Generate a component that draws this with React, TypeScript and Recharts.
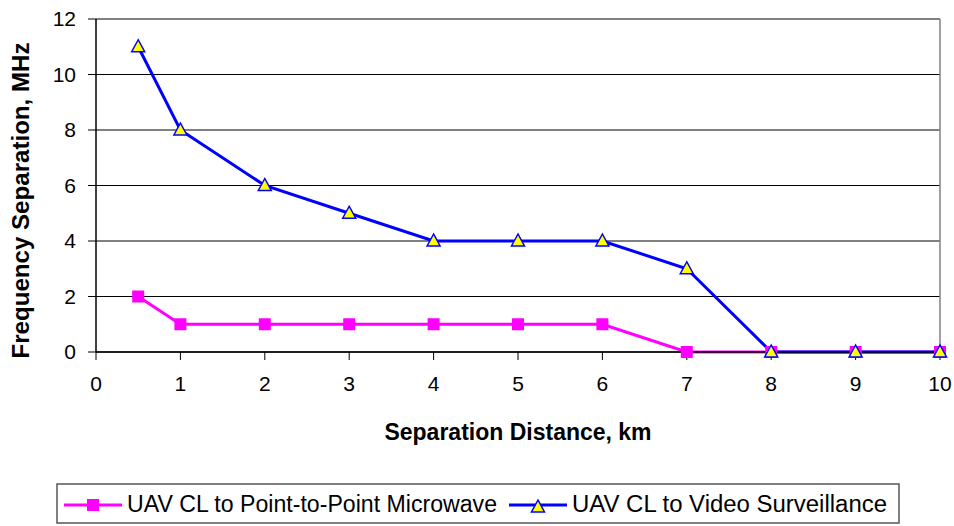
import { LineChart, Line, XAxis, YAxis, CartesianGrid, ReferenceLine, Label } from 'recharts';

const distances = [0.5, 1, 2, 3, 4, 5, 6, 7, 8, 9, 10];
const microwave = [2, 1, 1, 1, 1, 1, 1, 0, 0, 0, 0];
const video = [11, 8, 6, 5, 4, 4, 4, 3, 0, 0, 0];
const xTicks = [0, 1, 2, 3, 4, 5, 6, 7, 8, 9, 10];
const yTicks = [0, 2, 4, 6, 8, 10, 12];

const SERIES = [
  { key: 'microwave', name: 'UAV CL to Point-to-Point Microwave', color: '#FF00FF' },
  { key: 'video', name: 'UAV CL to Video Surveillance', color: '#0000FF' },
];

const data = distances.map((d, i) => ({ dist: d, microwave: microwave[i], video: video[i] }));

const FONT = '"Liberation Sans", Arial, sans-serif';

const SquareDot = (props: any) => {
  const { cx, cy } = props;
  if (cx == null || cy == null) return null;
  return <rect x={cx - 6} y={cy - 6} width={12} height={12} fill="#FF00FF" />;
};

const TriangleDot = (props: any) => {
  const { cx, cy } = props;
  if (cx == null || cy == null) return null;
  return (
    <polygon
      points={`${cx},${cy - 7} ${cx - 6.5},${cy + 5} ${cx + 6.5},${cy + 5}`}
      fill="#FFFF00"
      stroke="#0000FF"
      strokeWidth={1.5}
    />
  );
};

// legend drawn by hand, boxed like the original
const LegendBox = () => (
  <svg
    width={954}
    height={50}
    style={{ position: 'absolute', left: 0, top: 476, fontFamily: FONT }}
  >
    <rect x={57} y={8} width={842} height={39} fill="#fff" stroke="#555" strokeWidth={1.5} />
    <line x1={64} y1={29} x2={122} y2={29} stroke={SERIES[0].color} strokeWidth={3} />
    <rect x={87} y={23} width={12} height={12} fill={SERIES[0].color} />
    <text x={127} y={36} fontSize={23} fill="#000" textLength={370} lengthAdjust="spacingAndGlyphs">
      {SERIES[0].name}
    </text>
    <line x1={509} y1={29} x2={567} y2={29} stroke={SERIES[1].color} strokeWidth={3} />
    <polygon points="538,24 531.5,36 544.5,36" fill="#FFFF00" stroke="#0000FF" strokeWidth={1.5} />
    <text x={572} y={36} fontSize={23} fill="#000" textLength={315} lengthAdjust="spacingAndGlyphs">
      {SERIES[1].name}
    </text>
  </svg>
);

const YTitle = (props: any) => {
  const { viewBox } = props;
  const cy = viewBox.y + viewBox.height / 2 + 15;
  return (
    <text
      x={29}
      y={cy}
      transform={`rotate(-90, 29, ${cy})`}
      textAnchor="middle"
      fontSize={23}
      fontWeight="bold"
      fill="#000"
      textLength={316}
      lengthAdjust="spacingAndGlyphs"
    >
      Frequency Separation, MHz
    </text>
  );
};

const XTitle = (props: any) => {
  const { viewBox } = props;
  const cx = viewBox.x + viewBox.width / 2;
  return (
    <text x={cx} y={440} textAnchor="middle" fontSize={23} fontWeight="bold" fill="#000">
      Separation Distance, km
    </text>
  );
};

export default function App() {
  return (
    <div
      style={{
        position: 'absolute',
        left: 0,
        top: 0,
        width: 954,
        height: 526,
        overflow: 'hidden',
        background: '#fff',
      }}
    >
      <LineChart
        width={954}
        height={526}
        data={data}
        margin={{ top: 19, right: 14, bottom: 114, left: 0 }}
        style={{ fontFamily: FONT, overflow: 'visible' }}
      >
        <CartesianGrid vertical={false} stroke="#000" strokeWidth={1} />
        <XAxis
          dataKey="dist"
          type="number"
          domain={[0, 10]}
          ticks={xTicks}
          tickSize={8}
          tickMargin={16}
          stroke="#000"
          tick={{ fill: '#000', fontSize: 21 }}
          axisLine={{ stroke: '#000', strokeWidth: 1.5 }}
          height={60}
          interval={0}
        >
          <Label content={<XTitle />} />
        </XAxis>
        <YAxis
          type="number"
          domain={[0, 12]}
          ticks={yTicks}
          width={96}
          tickSize={8}
          tickMargin={12}
          stroke="#000"
          tick={{ fill: '#000', fontSize: 21 }}
          axisLine={{ stroke: '#000', strokeWidth: 1.5 }}
        >
          <Label content={<YTitle />} />
        </YAxis>
        <ReferenceLine x={10} stroke="#808080" strokeWidth={1.5} />
        <Line
          dataKey="microwave"
          name={SERIES[0].name}
          stroke={SERIES[0].color}
          strokeWidth={3}
          dot={<SquareDot />}
          activeDot={false}
          isAnimationActive={false}
        />
        <Line
          dataKey="video"
          name={SERIES[1].name}
          stroke={SERIES[1].color}
          strokeWidth={3}
          dot={<TriangleDot />}
          activeDot={false}
          isAnimationActive={false}
        />
      </LineChart>
      <LegendBox />
    </div>
  );
}
